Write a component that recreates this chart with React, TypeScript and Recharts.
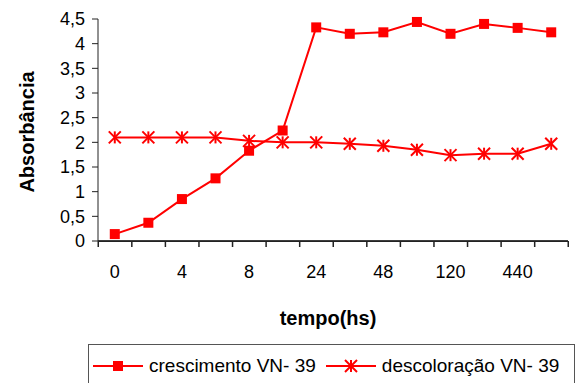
import { Label, Legend, Line, LineChart, XAxis, YAxis } from "recharts";

const tempo = ["0", "2", "4", "6", "8", "12", "24", "36", "48", "72", "120", "240", "440", "480"];
const crescimento = [0.14, 0.37, 0.85, 1.27, 1.83, 2.24, 4.33, 4.2, 4.23, 4.44, 4.2, 4.4, 4.32, 4.23];
const descoloracao = [2.1, 2.1, 2.1, 2.1, 2.03, 2.0, 2.0, 1.97, 1.93, 1.85, 1.74, 1.77, 1.77, 1.97];
const yTicks = [0, 0.5, 1, 1.5, 2, 2.5, 3, 3.5, 4, 4.5];
const seriesNames = { crescimento: "crescimento VN- 39", descoloracao: "descoloração VN- 39" };

const data = tempo.map((t, i) => ({
  tempo: t,
  crescimento: crescimento[i],
  descoloracao: descoloracao[i],
}));

const RED = "#ff0000";
const AXIS = "#222222";
const FONT = "'Liberation Sans', Arial, sans-serif";

function SquareMark({ cx, cy }: { cx?: number; cy?: number }) {
  if (cx == null || cy == null) return null;
  return <rect x={cx - 5} y={cy - 5} width={10} height={10} fill={RED} />;
}

function StarMark({ cx, cy }: { cx?: number; cy?: number }) {
  if (cx == null || cy == null) return null;
  const r = 6;
  return (
    <g stroke={RED} strokeWidth={2}>
      <line x1={cx} y1={cy - r} x2={cx} y2={cy + r} />
      <line x1={cx - r} y1={cy - r} x2={cx + r} y2={cy + r} />
      <line x1={cx - r} y1={cy + r} x2={cx + r} y2={cy - r} />
    </g>
  );
}

// category tick: its own stretch of the axis line, tick marks on the band
// edges, and a label on every other band
function TempoTick(props: any) {
  const { x, y, payload, index, width } = props;
  let half = Number(payload?.offset);
  if (!Number.isFinite(half) || half <= 0) half = (Number(width) || 470) / tempo.length / 2;
  const last = index === tempo.length - 1;
  return (
    <g>
      <rect x={x - half} y={y - 0.5} width={half * 2} height={1.5} fill={AXIS} />
      <rect x={x - half - 0.5} y={y} width={1.5} height={6} fill={AXIS} />
      {last && <rect x={x + half - 0.5} y={y} width={1.5} height={6} fill={AXIS} />}
      {index % 2 === 0 && (
        <text
          x={x}
          y={y + 24}
          dy="0.71em"
          textAnchor="middle"
          fontFamily={FONT}
          fontSize={18}
          fill="#000"
        >
          {payload.value}
        </text>
      )}
    </g>
  );
}

function LegendBox() {
  const item = (key: "crescimento" | "descoloracao", gap: number) => (
    <div style={{ display: "flex", alignItems: "center", marginLeft: gap }}>
      <svg width={50} height={16}>
        <line x1={0} y1={8} x2={50} y2={8} stroke={RED} strokeWidth={2} />
        {key === "crescimento" ? <SquareMark cx={25} cy={8} /> : <StarMark cx={25} cy={8} />}
      </svg>
      <span style={{ marginLeft: 6 }}>{seriesNames[key]}</span>
    </div>
  );
  return (
    <div
      style={{
        boxSizing: "border-box",
        width: 487,
        height: 46,
        border: "1px solid #555",
        display: "flex",
        alignItems: "center",
        paddingBottom: 2,
        fontFamily: FONT,
        fontSize: 19,
        color: "#000",
        whiteSpace: "nowrap",
      }}
    >
      {item("crescimento", 4)}
      {item("descoloracao", 10)}
    </div>
  );
}

export default function App() {
  return (
    <div style={{ position: "absolute", left: 0, top: 0, background: "#fff" }}>
      <LineChart
        width={581}
        height={383}
        data={data}
        margin={{ top: 19, right: 13, left: 0, bottom: 0 }}
      >
        <XAxis
          dataKey="tempo"
          scale="band"
          interval={0}
          height={142}
          axisLine={{ stroke: AXIS, strokeWidth: 1.5 }}
          tickLine={false}
          tickSize={0}
          tickMargin={0}
          tick={<TempoTick />}
        >
          <Label
            content={({ viewBox }: any) => (
              <text
                x={viewBox.x + viewBox.width / 2 - 5}
                y={viewBox.y + 77}
                textAnchor="middle"
                dominantBaseline="central"
                fontFamily={FONT}
                fontWeight="bold"
                fontSize={20}
                fill="#000"
              >
                tempo(hs)
              </text>
            )}
          />
        </XAxis>
        <YAxis
          width={98}
          domain={[0, 4.5]}
          ticks={yTicks}
          interval={0}
          stroke={AXIS}
          tickSize={6}
          tickMargin={7}
          tickFormatter={(v) => String(v).replace(".", ",")}
          tick={{ fontSize: 18, fill: "#000", fontFamily: FONT }}
        >
          <Label
            content={({ viewBox }: any) => (
              <text
                x={27}
                y={viewBox.y + viewBox.height / 2 + 2}
                transform={`rotate(-90, 27, ${viewBox.y + viewBox.height / 2 + 2})`}
                textAnchor="middle"
                dominantBaseline="central"
                fontFamily={FONT}
                fontWeight="bold"
                fontSize={20}
                fill="#000"
              >
                Absorbância
              </text>
            )}
          />
        </YAxis>
        <Legend
          layout="horizontal"
          verticalAlign="middle"
          align="center"
          wrapperStyle={{ top: 344, left: 88, width: 487 }}
          content={() => <LegendBox />}
        />
        <Line
          dataKey="crescimento"
          name={seriesNames.crescimento}
          stroke={RED}
          strokeWidth={2}
          dot={<SquareMark />}
          activeDot={false}
          isAnimationActive={false}
        />
        <Line
          dataKey="descoloracao"
          name={seriesNames.descoloracao}
          stroke={RED}
          strokeWidth={2}
          dot={<StarMark />}
          activeDot={false}
          isAnimationActive={false}
        />
      </LineChart>
    </div>
  );
}
